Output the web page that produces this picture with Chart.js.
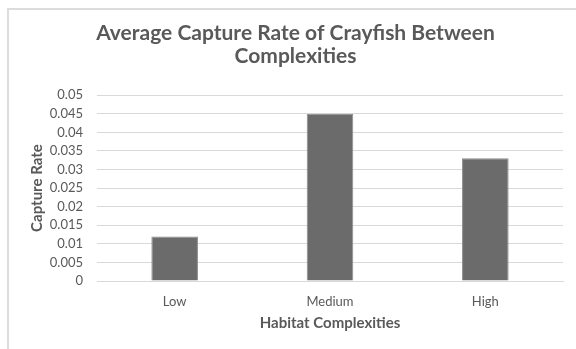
<!DOCTYPE html>
<html>
<head>
<meta charset="utf-8">
<script src="https://cdn.jsdelivr.net/npm/chart.js@4"></script>
<style>
  html, body { margin: 0; padding: 0; background: #ffffff; }
  #wrap { width: 576px; height: 349px; position: relative; }
</style>
</head>
<body>
<div id="wrap"><canvas id="chart" width="576" height="349"></canvas></div>
<script>
// Habitat complexity categories and mean capture rates
const categories = ['Low', 'Medium', 'High'];
const captureRates = [0.012, 0.045, 0.033];
const titleLines = ['Average Capture Rate of Crayfish Between', 'Complexities'];
const yAxisTitle = 'Capture Rate';
const xAxisTitle = 'Habitat Complexities';

const textGray = '#595959';
const gridGray = '#d9d9d9';

// Light frame around the chart area
const framePlugin = {
  id: 'frame',
  beforeDraw(chart) {
    const ctx = chart.ctx;
    ctx.save();
    ctx.strokeStyle = '#dcdcdc';
    ctx.lineWidth = 2;
    ctx.beginPath();
    ctx.moveTo(8, chart.height + 2);
    ctx.lineTo(8, 9);
    ctx.lineTo(chart.width + 2, 9);
    ctx.stroke();
    ctx.restore();
  }
};

new Chart(document.getElementById('chart'), {
  type: 'bar',
  data: {
    labels: categories,
    datasets: [{
      data: captureRates,
      backgroundColor: '#6b6b6b',
      borderColor: '#8c8c8c',
      borderWidth: 1,
      barPercentage: 0.3,
      categoryPercentage: 1.0
    }]
  },
  options: {
    responsive: false,
    animation: false,
    devicePixelRatio: 1,
    layout: { padding: { left: 28, right: 13, top: 8, bottom: 17 } },
    plugins: {
      legend: { display: false },
      tooltip: { enabled: false },
      title: {
        display: true,
        text: titleLines,
        color: textGray,
        font: { family: 'Lato', size: 21, weight: 'bold', lineHeight: 1.1 },
        padding: { top: 14, bottom: 27 }
      }
    },
    scales: {
      x: {
        grid: { display: false, drawTicks: false },
        border: { display: true, color: gridGray, width: 1 },
        ticks: {
          color: textGray,
          font: { family: 'Lato', size: 13 },
          padding: 13,
          maxRotation: 0
        },
        title: {
          display: true,
          text: xAxisTitle,
          color: textGray,
          font: { family: 'Lato', size: 15, weight: 'bold' },
          padding: { top: 0, bottom: 0 }
        },
        afterFit(scale) { scale.height = 51; }
      },
      y: {
        min: 0,
        max: 0.05,
        grid: { color: gridGray, lineWidth: 1, drawTicks: false },
        border: { display: false },
        ticks: {
          stepSize: 0.005,
          autoSkip: false,
          color: textGray,
          font: { family: 'Lato', size: 13 },
          padding: 14,
          callback: v => String(parseFloat(v.toFixed(3)))
        },
        title: {
          display: true,
          text: yAxisTitle,
          color: textGray,
          font: { family: 'Lato', size: 15, weight: 'bold' },
          padding: { top: 0, bottom: 4 }
        },
        afterFit(scale) { scale.width = 69; }
      }
    }
  },
  plugins: [framePlugin]
});
</script>
</body>
</html>
